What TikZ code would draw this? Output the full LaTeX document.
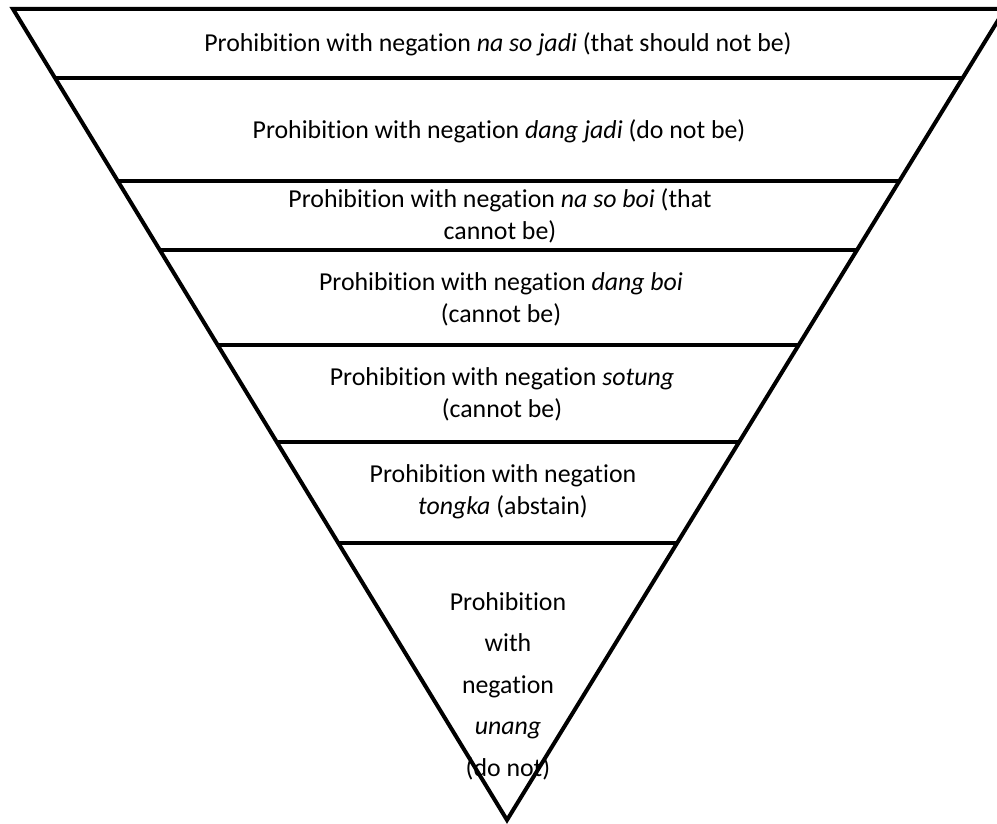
\documentclass[tikz,border=0pt]{standalone}
\usepackage{fontspec}
\setmainfont{Carlito}[Ligatures=NoCommon]
\usetikzlibrary{calc,positioning}

\begin{document}
\begin{tikzpicture}[x=0.02cm, y=-0.02cm, line width=0.08cm,
    band/.style={align=center, inner sep=0pt, font=\fontsize{14.7}{18.1}\selectfont},
    tip/.style={align=center, inner sep=0pt, font=\fontsize{14.7}{23.6}\selectfont}]
    \useasboundingbox (0,0) rectangle (997,824);
    \clip (0,0) rectangle (997,824);

    \coordinate (tl) at (13,9);
    \coordinate (tr) at (1005,9);
    \coordinate (apex) at (507,820);
    \draw (tl) -- (tr) -- (apex) -- cycle;
    \foreach \t in {0.0851,0.2121,0.2972,0.4143,0.5339,0.6585}
        \draw ($(tl)!\t!(apex)$) -- ($(tr)!\t!(apex)$);

    \node[band] (l1) at (498,44) {Prohibition with negation \textit{na so jadi} (that should not be)};
    \node[band] (l2) at (499,131) {Prohibition with negation \textit{dang jadi} (do not be)};
    \node[band] (l3) at (500,216) {Prohibition with negation \textit{na so boi} (that\\cannot be)};
    \node[band] (l4) at (501,299) {Prohibition with negation \textit{dang boi}\\(cannot be)};
    \node[band] (l5) at (502,394) {Prohibition with negation \textit{sotung}\\(cannot be)};
    \node[band] (l6) at (503,492) {Prohibition with negation\\\textit{tongka} (abstain)};
    \node[tip] (l7) at (508,686) {Prohibition\\with\\negation\\\textit{unang}\\(do not)};
\end{tikzpicture}
\end{document}
